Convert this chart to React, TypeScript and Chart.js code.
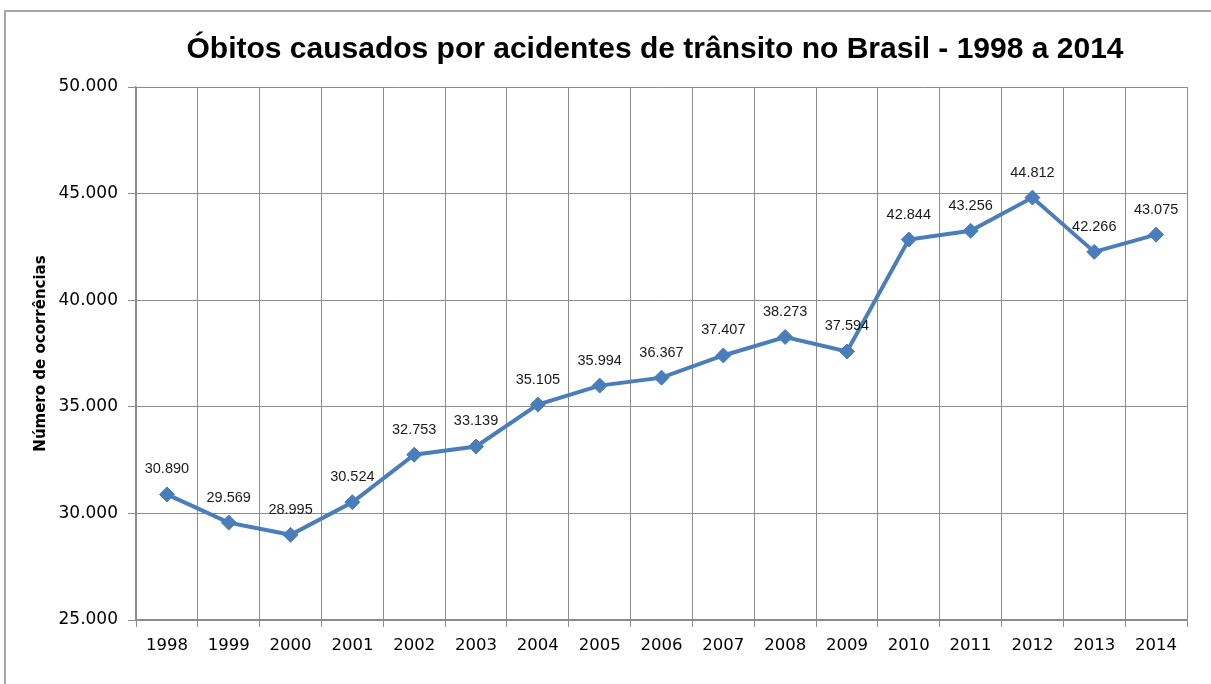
import React, { useEffect, useRef } from "react";
import { Chart, registerables } from "chart.js";

Chart.register(...registerables);

const TITLE = "Óbitos causados por acidentes de trânsito no Brasil - 1998 a 2014";
const Y_TITLE = "Número de ocorrências";
const YEARS = ["1998", "1999", "2000", "2001", "2002", "2003", "2004", "2005", "2006", "2007", "2008", "2009", "2010", "2011", "2012", "2013", "2014"];
const DEATHS = [30890, 29569, 28995, 30524, 32753, 33139, 35105, 35994, 36367, 37407, 38273, 37594, 42844, 43256, 44812, 42266, 43075];
const Y_MIN = 25000;
const Y_MAX = 50000;
const Y_STEP = 5000;

const fmt = (v: number) => String(v).replace(/\B(?=(\d{3})+(?!\d))/g, ".");

const GRID = "#8c8c8c";
const BLUE = "#4a7ebb";

const framePlugin = {
  id: "frame",
  beforeDraw(chart: any) {
    const { ctx, width, height } = chart;
    ctx.save();
    ctx.fillStyle = "#ffffff";
    ctx.fillRect(0, 0, width, height);
    ctx.strokeStyle = "#a6a6a6";
    ctx.lineWidth = 2;
    ctx.beginPath();
    ctx.moveTo(5, height);
    ctx.lineTo(5, 11);
    ctx.lineTo(width, 11);
    ctx.stroke();
    ctx.restore();
  },
  afterDraw(chart: any) {
    const { ctx } = chart;
    ctx.save();
    ctx.font = "bold 30px 'Liberation Sans', Arial, sans-serif";
    ctx.fillStyle = "#000000";
    ctx.textAlign = "center";
    ctx.textBaseline = "middle";
    ctx.fillText(TITLE, 655, 50);
    ctx.restore();
  },
};

const labelPlugin = {
  id: "pointLabels",
  afterDatasetsDraw(chart: any) {
    const { ctx } = chart;
    const meta = chart.getDatasetMeta(0);
    const data = chart.data.datasets[0].data as number[];
    ctx.save();
    ctx.font = "14.5px 'Liberation Sans', Arial, sans-serif";
    ctx.fillStyle = "#1a1a1a";
    ctx.textAlign = "center";
    ctx.textBaseline = "middle";
    meta.data.forEach((pt: any, i: number) => {
      ctx.fillText(fmt(data[i]), pt.x, pt.y - 25);
    });
    ctx.restore();
  },
};

export default function App() {
  const ref = useRef<HTMLCanvasElement>(null);
  useEffect(() => {
    if (!ref.current) return;
    const chart = new Chart(ref.current, {
      type: "line",
      data: {
        labels: YEARS,
        datasets: [
          {
            data: DEATHS,
            borderColor: BLUE,
            backgroundColor: BLUE,
            borderWidth: 4,
            pointStyle: "rectRot",
            pointRadius: 7.5,
            pointBorderWidth: 1,
            pointBackgroundColor: BLUE,
            pointBorderColor: BLUE,
            tension: 0,
          },
        ],
      },
      options: {
        animation: false,
        responsive: false,
        maintainAspectRatio: false,
        layout: { padding: { left: 0, right: 24, top: 87, bottom: 0 } },
        plugins: {
          legend: { display: false },
          tooltip: { enabled: false },
          title: { display: false },
        },
        scales: {
          x: {
            type: "category",
            offset: true,
            grid: { offset: true, color: GRID, lineWidth: 1, tickLength: 7, drawTicks: true },
            border: { color: GRID, width: 1.5 },
            ticks: {
              color: "#000000",
              font: { family: "'DejaVu Sans', Verdana, sans-serif", size: 16.5 },
              padding: 9,
              maxRotation: 0,
              autoSkip: false,
            },
            afterFit: (s: any) => {
              s.height = 64;
            },
          },
          y: {
            min: Y_MIN,
            max: Y_MAX,
            grid: { color: GRID, lineWidth: 1, tickLength: 8, drawTicks: true },
            border: { color: GRID, width: 1.5 },
            ticks: {
              stepSize: Y_STEP,
              color: "#000000",
              font: { family: "'DejaVu Sans', Verdana, sans-serif", size: 17 },
              padding: 10,
              callback: (v: any) => fmt(Number(v)),
            },
            title: {
              display: true,
              text: Y_TITLE,
              color: "#000000",
              font: { family: "'DejaVu Sans', Verdana, sans-serif", size: 15, weight: "bold" },
              padding: { top: 32, bottom: 0 },
            },
            afterFit: (s: any) => {
              s.width = 136;
            },
          },
        },
      },
      plugins: [framePlugin, labelPlugin],
    });
    return () => chart.destroy();
  }, []);
  return (
    <div style={{ position: "absolute", left: 0, top: 0, width: 1211, height: 684 }}>
      <canvas ref={ref} width={1211} height={684} style={{ display: "block" }} />
    </div>
  );
}
